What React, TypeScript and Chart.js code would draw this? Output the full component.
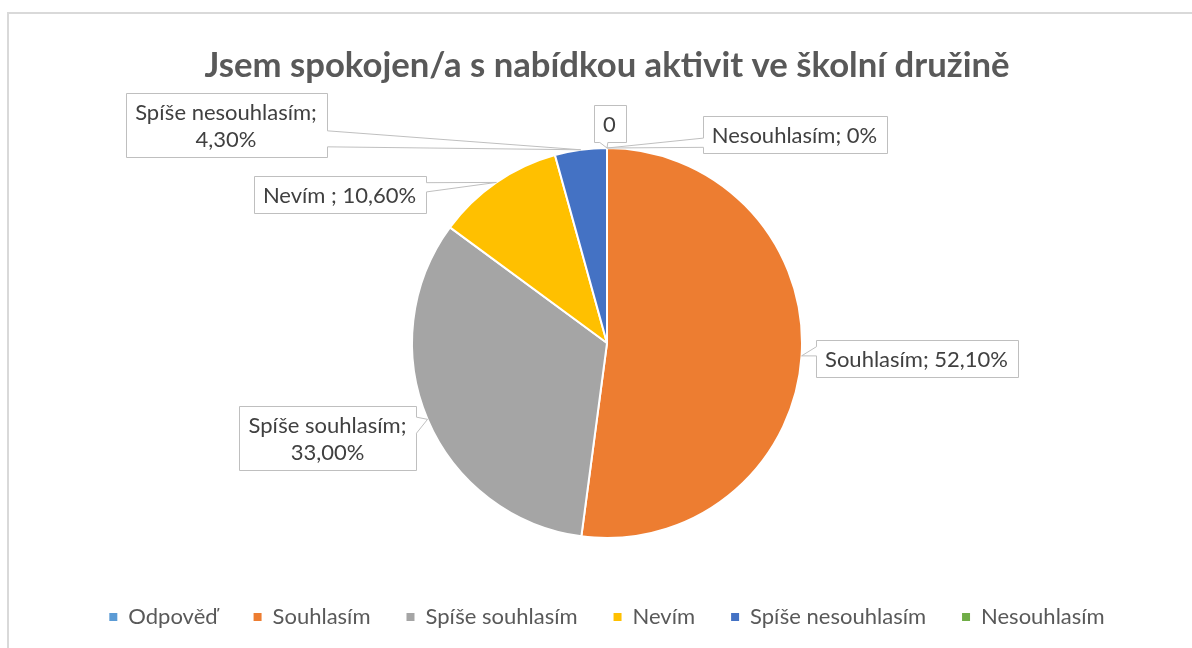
import React, { useEffect, useRef } from "react";
import { Chart, registerables } from "chart.js";

Chart.register(...registerables);

const TITLE = "Jsem spokojen/a s nabídkou aktivit ve školní družině";
const categories = ["Odpověď", "Souhlasím", "Spíše souhlasím", "Nevím", "Spíše nesouhlasím", "Nesouhlasím"];
const values = [0, 52.1, 33.0, 10.6, 4.3, 0];
const colors = ["#5B9BD5", "#ED7D31", "#A5A5A5", "#FFC000", "#4472C4", "#70AD47"];
const dataLabels = [
  ["0"],
  ["Souhlasím; 52,10%"],
  ["Spíše souhlasím;", "33,00%"],
  ["Nevím ; 10,60%"],
  ["Spíše nesouhlasím;", "4,30%"],
  ["Nesouhlasím; 0%"],
];
// label box centres, relative to the pie centre
const labelOffsets = [
  [2.5, -220],
  [309.5, 15.5],
  [-279.5, 95],
  [-267.5, -148.5],
  [-381, -218.5],
  [187.5, -208.5],
];

const FONT = "Lato, 'Open Sans', sans-serif";
const LABEL_SIZE = 22;
const PAD_X = 9.5;
const PAD_Y = 5;
const LINE_H = 27;

const calloutPlugin = {
  id: "callouts",
  afterDatasetsDraw(chart: any) {
    const ctx = chart.ctx as CanvasRenderingContext2D;
    const meta = chart.getDatasetMeta(0);
    ctx.save();
    ctx.font = `${LABEL_SIZE}px ${FONT}`;
    meta.data.forEach((arc: any, i: number) => {
      const { x, y, startAngle, endAngle, outerRadius } = arc.getProps(
        ["x", "y", "startAngle", "endAngle", "outerRadius"],
        true
      );
      const mid = (startAngle + endAngle) / 2;
      const tipX = x + Math.cos(mid) * outerRadius;
      const tipY = y + Math.sin(mid) * outerRadius;
      const lines = dataLabels[i];
      const tw = Math.max(...lines.map((l) => ctx.measureText(l).width));
      const w = Math.round(tw + 2 * PAD_X);
      const h = lines.length * LINE_H + 2 * PAD_Y;
      const cx = x + labelOffsets[i][0];
      const cy = y + labelOffsets[i][1];
      const l = Math.round(cx - w / 2) + 0.5;
      const t = Math.round(cy - h / 2) + 0.5;
      const r = l + w;
      const b = t + h;
      const dxPos = tipX - cx;
      const dyPos = tipY - cy;
      const dz = Math.abs(dyPos) - Math.abs((dxPos * h) / w);
      const x1 = l + (w * (dxPos > 0 ? 7 : 2)) / 12;
      const x2 = l + (w * (dxPos > 0 ? 10 : 5)) / 12;
      const y1 = t + (h * (dyPos > 0 ? 7 : 2)) / 12;
      const y2 = t + (h * (dyPos > 0 ? 10 : 5)) / 12;
      ctx.beginPath();
      ctx.moveTo(l, t);
      if (dz > 0 && dyPos < 0) {
        ctx.lineTo(x1, t);
        ctx.lineTo(tipX, tipY);
        ctx.lineTo(x2, t);
      }
      ctx.lineTo(r, t);
      if (dz <= 0 && dxPos > 0) {
        ctx.lineTo(r, y1);
        ctx.lineTo(tipX, tipY);
        ctx.lineTo(r, y2);
      }
      ctx.lineTo(r, b);
      if (dz > 0 && dyPos > 0) {
        ctx.lineTo(x2, b);
        ctx.lineTo(tipX, tipY);
        ctx.lineTo(x1, b);
      }
      ctx.lineTo(l, b);
      if (dz <= 0 && dxPos < 0) {
        ctx.lineTo(l, y2);
        ctx.lineTo(tipX, tipY);
        ctx.lineTo(l, y1);
      }
      ctx.closePath();
      ctx.fillStyle = "#ffffff";
      ctx.fill();
      ctx.strokeStyle = "#bfbfbf";
      ctx.lineWidth = 1;
      ctx.stroke();
      ctx.fillStyle = "#404040";
      ctx.textAlign = "center";
      ctx.textBaseline = "middle";
      lines.forEach((line, k) => {
        ctx.fillText(line, cx, t + PAD_Y + LINE_H * k + LINE_H / 2 + 1);
      });
    });
    ctx.restore();
  },
};

export default function App() {
  const canvasRef = useRef<HTMLCanvasElement | null>(null);

  useEffect(() => {
    if (!canvasRef.current) return;
    const chart = new Chart(canvasRef.current, {
      type: "pie",
      data: {
        labels: categories,
        datasets: [
          {
            data: values,
            backgroundColor: colors,
            borderColor: "#ffffff",
            borderWidth: 2,
            radius: 195,
          } as any,
        ],
      },
      options: {
        responsive: false,
        animation: false,
        layout: { padding: { left: 22, right: 0, top: 0, bottom: 10 } },
        plugins: {
          title: {
            display: true,
            text: TITLE,
            color: "#595959",
            font: { family: FONT, size: 34.7, weight: "bold" },
            padding: { top: 45.2, bottom: 29.2 },
          },
          legend: {
            position: "bottom",
            labels: {
              boxWidth: 8,
              boxHeight: 8,
              color: "#595959",
              font: { family: FONT, size: 22 },
              padding: 36,
              generateLabels: (c: any) =>
                (Chart as any).overrides.pie.plugins.legend.labels
                  .generateLabels(c)
                  .map((it: any) => ({ ...it, lineWidth: 0, strokeStyle: "rgba(0,0,0,0)" })),
            },
          },
          tooltip: { enabled: false },
        },
      } as any,
      plugins: [calloutPlugin],
    });
    return () => chart.destroy();
  }, []);

  return (
    <div style={{ position: "fixed", left: 0, top: 0, width: 1192, height: 648, background: "#fff", overflow: "hidden" }}>
      <div
        style={{
          position: "absolute",
          left: 7,
          top: 12,
          width: 1300,
          height: 800,
          border: "2px solid #d9d9d9",
          boxSizing: "border-box",
        }}
      />
      <canvas ref={canvasRef} width={1192} height={648} style={{ position: "absolute", left: 0, top: 0 }} />
    </div>
  );
}
